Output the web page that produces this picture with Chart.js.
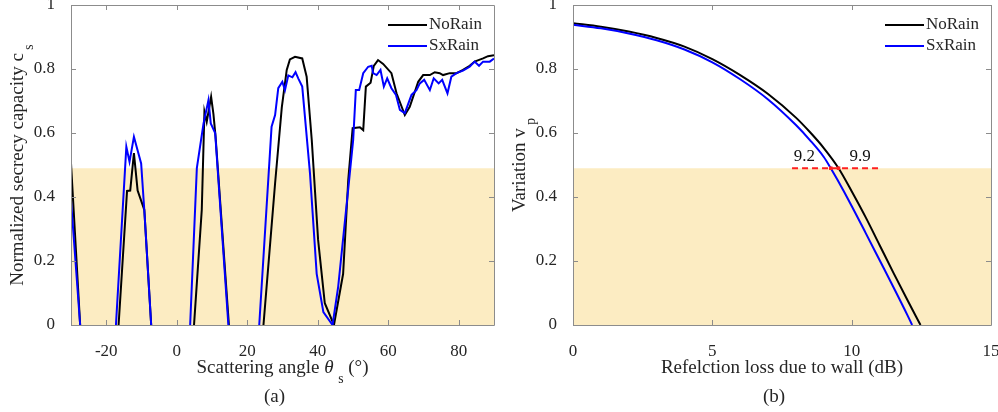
<!DOCTYPE html>
<html>
<head>
<meta charset="utf-8">
<script src="https://cdn.jsdelivr.net/npm/chart.js@4.4.1/dist/chart.umd.min.js"></script>
<style>
  body { margin: 0; background: #fff; width: 998px; height: 412px; overflow: hidden; position: relative; }
  canvas { position: absolute; top: 0; }
</style>
</head>
<body>
<canvas id="chart-a" width="499" height="412" style="left:0;width:499px;height:412px"></canvas>
<canvas id="chart-b" width="499" height="412" style="left:499px;width:499px;height:412px"></canvas>
<script>
// (a) normalized secrecy capacity against scattering angle, null = below zero
var thetaNoRain = [-30, -27.4, -22, -16.5, -14.1, -13.2, -12.15, -11.1, -9.2, -7.25, 0,
    4.9, 7.1, 7.85, 8.5, 9.75, 10.4, 11.0, 14.8, 19,
    24.6, 27.9, 29.8, 31.2, 32.1, 33.55, 35.6, 36.85, 38.3, 40.1, 42.0, 44.6,
    47.2, 48.65, 49.9, 51.95, 52.9, 53.65, 54.99, 55.9, 57.1, 58.55, 60.9, 62.35,
    64.7, 66.1, 68.5, 69.9, 71.8, 73.2, 74.6, 75.55, 77.45, 79.35, 81.2, 83.1,
    84.5, 86.9, 88.3, 90];
var capNoRain = [0.505, 0, null, 0, 0.419, 0.42, 0.537, 0.42, 0.36, 0, null,
    0, 0.36, 0.667, 0.635, 0.713, 0.66, 0.59, 0, null,
    0, 0.443, 0.68, 0.797, 0.83, 0.838, 0.833, 0.776, 0.578, 0.266, 0.068, 0,
    0.16, 0.453, 0.615, 0.618, 0.609, 0.745, 0.757, 0.81, 0.828, 0.816, 0.787, 0.724,
    0.656, 0.682, 0.76, 0.781, 0.781, 0.79, 0.787, 0.781, 0.787, 0.787, 0.797, 0.81,
    0.823, 0.833, 0.84, 0.843];
var thetaSxRain = [-30, -27.4, -22, -17.25, -14.3, -13.4, -12.15, -10.1, -9.15, -7.25, 0,
    3.8, 5.7, 7.6, 9.0, 9.65, 10.9, 14.65, 19,
    23.4, 26.9, 27.9, 28.8, 29.95, 30.7, 31.65, 32.8, 33.7, 34.5, 35.6, 37.8, 39.7,
    41.6, 44.2, 45.8, 48.6, 50.05, 50.8, 51.75, 52.9, 54.3, 55.3, 55.7, 56.7, 57.8,
    58.75, 59.7, 60.9, 62.2, 63.3, 64.7, 66.6, 68.0, 68.95, 70.2, 71.8, 72.9, 74.3,
    75.3, 76.8, 77.9, 79.35, 81.2, 83.1, 84.5, 85.75, 86.9, 88.8, 90];
var capSxRain = [0.39, 0, null, 0, 0.557, 0.51, 0.588, 0.505, 0.35, 0, null,
    0, 0.49, 0.63, 0.703, 0.63, 0.6, 0, null,
    0, 0.62, 0.656, 0.74, 0.76, 0.734, 0.78, 0.774, 0.79, 0.77, 0.745, 0.474, 0.16,
    0.04, 0, 0.12, 0.42, 0.578, 0.734, 0.734, 0.787, 0.807, 0.81, 0.787, 0.781, 0.797,
    0.745, 0.771, 0.74, 0.719, 0.672, 0.662, 0.719, 0.734, 0.755, 0.766, 0.734, 0.771, 0.755,
    0.766, 0.724, 0.776, 0.787, 0.795, 0.807, 0.823, 0.81, 0.823, 0.823, 0.833];

// (b) variation against reflection loss of the wall
var lossNoRain = [0, 1, 2, 3, 4, 5, 6, 7, 8, 8.5, 9, 9.53, 10, 10.5, 11, 11.5, 12, 12.47];
var varNoRain = [0.943, 0.932, 0.917, 0.897, 0.870, 0.831, 0.781, 0.722, 0.648, 0.603, 0.553,
    0.49, 0.418, 0.337, 0.250, 0.163, 0.078, 0];
var lossSxRain = [0, 1, 2, 3, 4, 5, 6, 7, 8, 8.5, 9, 9.25, 9.5, 10, 10.5, 11, 11.5, 12, 12.17];
var varSxRain = [0.938, 0.927, 0.911, 0.890, 0.861, 0.821, 0.768, 0.705, 0.625, 0.578, 0.525,
    0.49, 0.452, 0.372, 0.288, 0.203, 0.118, 0.031, 0];

var threshold = 0.49;
var dashLoss = [7.86, 9.25, 9.53, 10.96];
var markLoss = [9.25, 9.53];
var noteLoss = [8.3, 10.3];
var noteText = ['9.2', '9.9'];

var xTicksA = [-20, 0, 20, 40, 60, 80];
var xTicksB = [0, 5, 10, 15];
var yTicks = [0, 0.2, 0.4, 0.6, 0.8, 1];

var SERIF = '"Liberation Serif", "Times New Roman", serif';
var TXT = '#262626';
var BOX = '#8c8c8c';

function pts(xs, ys) {
    return xs.map(function (x, i) { return { x: x, y: ys[i] }; });
}

// writes a label made of pieces (plain, italic, subscript), centred at 0,0
function drawParts(ctx, parts, size) {
    var total = 0;
    parts.forEach(function (p) {
        ctx.font = (p.it ? 'italic ' : '') + (p.sub ? size * 0.72 : size) + 'px ' + SERIF;
        p.w = ctx.measureText(p.t).width;
        total += p.w;
    });
    var x = -total / 2;
    parts.forEach(function (p) {
        ctx.font = (p.it ? 'italic ' : '') + (p.sub ? size * 0.72 : size) + 'px ' + SERIF;
        ctx.fillText(p.t, x, p.sub ? size * 0.6 : 0);
        x += p.w;
    });
}

function decorations(xParts, yParts, caption, yTitleX) {
    return {
        id: 'decorations',
        afterDatasetsDraw: function (chart) {
            var ctx = chart.ctx, a = chart.chartArea;
            var sx = chart.scales.x, sy = chart.scales.y;
            ctx.save();
            // box and inward ticks
            ctx.strokeStyle = BOX;
            ctx.lineWidth = 1;
            ctx.beginPath();
            sx.ticks.forEach(function (t) {
                var px = Math.round(sx.getPixelForValue(t.value)) + 0.5;
                ctx.moveTo(px, a.bottom); ctx.lineTo(px, a.bottom - 5);
                ctx.moveTo(px, a.top); ctx.lineTo(px, a.top + 5);
            });
            sy.ticks.forEach(function (t) {
                var py = Math.round(sy.getPixelForValue(t.value)) + 0.5;
                ctx.moveTo(a.left, py); ctx.lineTo(a.left + 5, py);
                ctx.moveTo(a.right, py); ctx.lineTo(a.right - 5, py);
            });
            ctx.rect(Math.round(a.left) + 0.5, Math.round(a.top) + 0.5,
                Math.round(a.right - a.left), Math.round(a.bottom - a.top));
            ctx.stroke();

            // legend in the upper right corner
            var rows = chart.data.datasets.filter(function (d) { return d.label; });
            rows.forEach(function (d, i) {
                var y = a.top + 20 + i * 21;
                ctx.strokeStyle = d.borderColor;
                ctx.lineWidth = 2;
                ctx.beginPath();
                ctx.moveTo(a.right - 106, y); ctx.lineTo(a.right - 67, y);
                ctx.stroke();
                ctx.fillStyle = TXT;
                ctx.font = '17px ' + SERIF;
                ctx.textAlign = 'left';
                ctx.textBaseline = 'middle';
                ctx.fillText(d.label, a.right - 65, y);
            });

            // axis titles and panel caption
            ctx.fillStyle = TXT;
            ctx.textAlign = 'left';
            ctx.textBaseline = 'middle';
            var cx = (a.left + a.right) / 2;
            ctx.save();
            ctx.translate(cx, 368);
            drawParts(ctx, xParts, 19);
            ctx.restore();
            ctx.save();
            ctx.translate(yTitleX, (a.top + a.bottom) / 2);
            ctx.rotate(-Math.PI / 2);
            drawParts(ctx, yParts, 19);
            ctx.restore();
            ctx.font = '19px ' + SERIF;
            ctx.textAlign = 'center';
            ctx.fillText(caption, cx - 8, 397);
            ctx.restore();
        }
    };
}

function axes(xMin, xMax, xTicks, yWidth) {
    var fixPad = function (s) {
        s.paddingLeft = 0; s.paddingRight = 0; s.paddingTop = 0; s.paddingBottom = 0;
    };
    return {
        x: {
            type: 'linear', min: xMin, max: xMax,
            grid: { display: false }, border: { display: false },
            afterBuildTicks: function (s) { s.ticks = xTicks.map(function (v) { return { value: v }; }); },
            afterFit: function (s) { s.height = 87; fixPad(s); },
            ticks: { color: TXT, padding: 8, maxRotation: 0, font: { family: SERIF, size: 17 },
                callback: function (v) { return String(v); } }
        },
        y: {
            type: 'linear', min: 0, max: 1,
            grid: { display: false }, border: { display: false },
            afterBuildTicks: function (s) { s.ticks = yTicks.map(function (v) { return { value: v }; }); },
            afterFit: function (s) { s.width = yWidth; fixPad(s); },
            ticks: { color: TXT, padding: 8, font: { family: SERIF, size: 17 },
                callback: function (v) { return String(v); } }
        }
    };
}

var common = {
    responsive: false,
    animation: false,
    devicePixelRatio: 1,
    layout: { padding: { left: 0, right: 5, top: 5, bottom: 0 } },
    plugins: { legend: { display: false }, tooltip: { enabled: false } }
};

new Chart(document.getElementById('chart-a').getContext('2d'), {
    type: 'line',
    data: {
        datasets: [{
            label: 'NoRain',
            data: pts(thetaNoRain, capNoRain),
            borderColor: '#000000',
            borderWidth: 2,
            pointRadius: 0,
            tension: 0,
            order: 2
        }, {
            label: 'SxRain',
            data: pts(thetaSxRain, capSxRain),
            borderColor: '#0000ff',
            borderWidth: 2,
            pointRadius: 0,
            tension: 0,
            order: 1
        }, {
            data: pts([-30, 90], [threshold, threshold]),
            borderWidth: 0,
            pointRadius: 0,
            backgroundColor: '#fcecc2',
            fill: 'origin',
            order: 3
        }]
    },
    options: Object.assign({}, common, {
        scales: axes(-30, 90, xTicksA, 71)
    }),
    plugins: [decorations(
        [{ t: 'Scattering angle ' }, { t: 'θ', it: true }, { t: ' ' }, { t: 's', sub: true }, { t: ' (°)' }],
        [{ t: 'Normalized secrecy capacity c' }, { t: ' s', sub: true }],
        '(a)', 18)]
});

new Chart(document.getElementById('chart-b').getContext('2d'), {
    type: 'line',
    data: {
        datasets: [{
            label: 'NoRain',
            data: pts(lossNoRain, varNoRain),
            borderColor: '#000000',
            borderWidth: 2,
            pointRadius: 0,
            cubicInterpolationMode: 'monotone',
            order: 2
        }, {
            label: 'SxRain',
            data: pts(lossSxRain, varSxRain),
            borderColor: '#0000ff',
            borderWidth: 2,
            pointRadius: 0,
            cubicInterpolationMode: 'monotone',
            order: 1
        }, {
            // threshold crossings
            data: pts(dashLoss, dashLoss.map(function () { return threshold; })),
            borderColor: '#ff1f1f',
            borderWidth: 2,
            borderDash: [6, 4],
            pointStyle: 'rect',
            pointRadius: dashLoss.map(function (v) { return markLoss.indexOf(v) >= 0 ? 2.5 : 0; }),
            pointBackgroundColor: '#ff1f1f',
            pointBorderWidth: 0,
            order: 0
        }, {
            data: pts([0, 15], [threshold, threshold]),
            borderWidth: 0,
            pointRadius: 0,
            backgroundColor: '#fcecc2',
            fill: 'origin',
            order: 3
        }]
    },
    options: Object.assign({}, common, {
        layout: { padding: { left: 0, right: 7, top: 5, bottom: 0 } },
        scales: axes(0, 15, xTicksB, 74)
    }),
    plugins: [decorations(
        [{ t: 'Refelction loss due to wall (dB)' }],
        [{ t: 'Variation v' }, { t: ' p', sub: true }],
        '(b)', 21), {
        id: 'crossNotes',
        afterDatasetsDraw: function (chart) {
            var ctx = chart.ctx, sx = chart.scales.x, sy = chart.scales.y;
            ctx.save();
            ctx.fillStyle = '#111';
            ctx.font = '17px ' + SERIF;
            ctx.textAlign = 'center';
            ctx.textBaseline = 'middle';
            noteText.forEach(function (t, i) {
                ctx.fillText(t, sx.getPixelForValue(noteLoss[i]), sy.getPixelForValue(threshold) - 12);
            });
            ctx.restore();
        }
    }]
});
</script>
</body>
</html>
